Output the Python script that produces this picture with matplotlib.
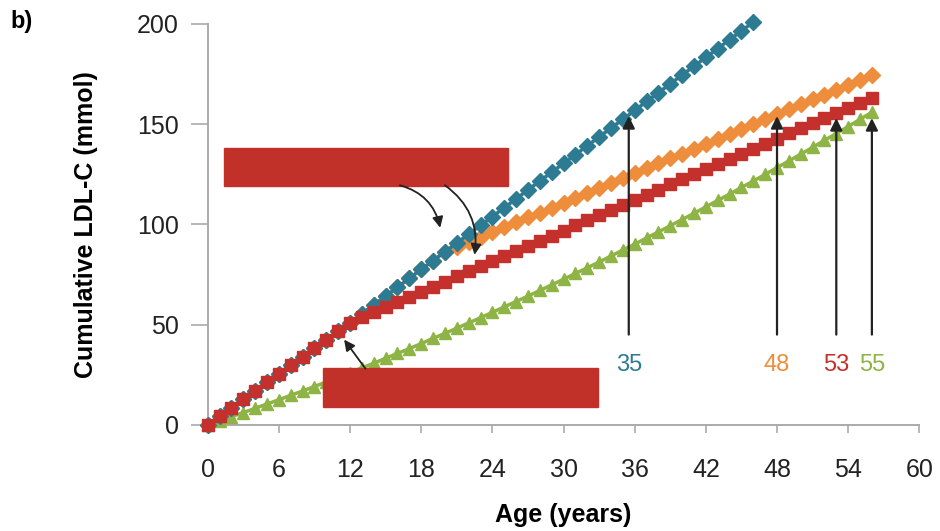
import matplotlib
matplotlib.use("Agg")
import matplotlib.pyplot as plt
from matplotlib.patches import Rectangle

############# DATA ###############
AGE_BLUE = list(range(0, 47))
BLUE = [0, 4.25, 8.5, 12.75, 17, 21.25, 25.5, 29.75, 34, 38.25, 42.5, 46.75, 51,
        55.4, 59.8, 64.2, 68.6, 73.1, 77.5, 81.9, 86.3, 90.7, 95.1, 99.5, 103.9,
        108.3, 112.7, 117.2, 121.6, 126.0, 130.4, 134.8, 139.2, 143.6, 148.0,
        152.4, 156.8, 161.3, 165.7, 170.1, 174.5, 178.9, 183.3, 187.7, 192.1,
        196.5, 200.9]

AGE_ORANGE = list(range(0, 57))
ORANGE = [0, 4.25, 8.5, 12.75, 17, 21.25, 25.5, 29.75, 34, 38.25, 42.5, 46.75, 51,
          55.4, 59.8, 64.2, 68.6, 73.1, 77.5, 81.9, 86.3,
          88.8, 91.2, 93.7, 96.1, 98.6, 101.0, 103.5, 105.9, 108.4, 110.8, 113.3,
          115.7, 118.2, 120.6, 123.1, 125.5, 128.0, 130.4, 132.9, 135.3, 137.8,
          140.2, 142.7, 145.1, 147.6, 150.0, 152.5, 154.9, 157.4, 159.8, 162.3,
          164.7, 167.2, 169.6, 172.1, 174.5]

AGE_RED = list(range(0, 57))
RED = [0, 4.25, 8.5, 12.75, 17, 21.25, 25.5, 29.75, 34, 38.25, 42.5, 46.75, 51,
       53.6, 56.1, 58.7, 61.2, 63.8, 66.3, 68.9, 71.4, 74.0, 76.5, 79.1, 81.6,
       84.2, 86.7, 89.3, 91.8, 94.4, 96.9, 99.5, 102.0, 104.6, 107.1, 109.7,
       112.2, 114.8, 117.3, 119.9, 122.4, 125.0, 127.5, 130.1, 132.6, 135.2,
       137.7, 140.3, 142.8, 145.4, 147.9, 150.5, 153.0, 155.6, 158.1, 160.7,
       163.2]

AGE_GREEN = list(range(0, 57))
GREEN = [0, 2.0, 4.1, 6.1, 8.2, 10.4, 12.5, 14.7, 16.9, 19.1, 21.4, 23.7, 26.0,
         28.4, 30.7, 33.2, 35.6, 38.0, 40.5, 43.1, 45.6, 48.2, 50.8, 53.4, 56.1,
         58.8, 61.5, 64.2, 67.0, 69.8, 72.6, 75.5, 78.3, 81.2, 84.2, 87.2, 90.1,
         93.2, 96.2, 99.3, 102.4, 105.5, 108.7, 111.9, 115.1, 118.4, 121.6,
         124.9, 128.3, 131.6, 135.0, 138.4, 141.9, 145.3, 148.8, 152.4, 155.9]

X_TICKS = [0, 6, 12, 18, 24, 30, 36, 42, 48, 54, 60]
Y_TICKS = [0, 50, 100, 150, 200]

ARROW_X = [35.5, 48, 53, 56]
ARROW_TIP = [154, 154, 153, 153]
ARROW_LABELS = ["35", "48", "53", "55"]
##################################

############ PALETTE ###############
C_BLUE = "#2C7B93"
C_ORANGE = "#EE8E3C"
C_RED = "#C4302B"
C_GREEN = "#8DB444"
ARROW_COLORS = [C_BLUE, C_ORANGE, C_RED, C_GREEN]
BOX_COLOR = "#C2302A"
####################################

plt.rcParams["font.family"] = ["Liberation Sans", "DejaVu Sans"]

fig = plt.figure(figsize=(9.4, 5.31), dpi=100)
ax = fig.add_axes([0.221, 0.2, 0.757, 0.755])

ax.plot(AGE_GREEN, GREEN, color=C_GREEN, marker="^", markersize=9,
        linewidth=2.5, clip_on=False, zorder=3)
ax.plot(AGE_ORANGE, ORANGE, color=C_ORANGE, marker="D", markersize=8,
        linewidth=2.5, clip_on=False, zorder=4)
ax.plot(AGE_BLUE, BLUE, color=C_BLUE, marker="D", markersize=8,
        linewidth=2.5, clip_on=False, zorder=5)
ax.plot(AGE_RED, RED, color=C_RED, marker="s", markersize=8,
        linewidth=2.5, clip_on=False, zorder=6)

# vertical arrows with age labels
for x, tip, lab, col in zip(ARROW_X, ARROW_TIP, ARROW_LABELS, ARROW_COLORS):
    ax.annotate("", xy=(x, tip), xytext=(x, 45),
                arrowprops=dict(arrowstyle="-|>", color="#222222", lw=1.6,
                                mutation_scale=18, shrinkA=0, shrinkB=0),
                zorder=8)
    ax.text(x, 30, lab, color=col, fontsize=17, ha="center", va="center",
            zorder=8)

# redaction boxes
ax.add_patch(Rectangle((1.35, 119.2), 23.95, 19.0, color=BOX_COLOR, zorder=9, clip_on=False))
ax.add_patch(Rectangle((9.7, 9.0), 23.2, 19.4, color=BOX_COLOR, zorder=9, clip_on=False))

# curved arrows from the upper box
ax.annotate("", xy=(19.6, 98.3), xytext=(16.2, 119.5),
            arrowprops=dict(arrowstyle="-|>", color="#222222", lw=1.3,
                            mutation_scale=16, shrinkA=0, shrinkB=0,
                            connectionstyle="arc3,rad=-0.3"), zorder=10)
ax.annotate("", xy=(22.5, 84.8), xytext=(20.0, 119.5),
            arrowprops=dict(arrowstyle="-|>", color="#222222", lw=1.3,
                            mutation_scale=16, shrinkA=0, shrinkB=0,
                            connectionstyle="arc3,rad=-0.3"), zorder=10)
# arrow from the lower box
ax.annotate("", xy=(11.5, 42.5), xytext=(13.3, 28.0),
            arrowprops=dict(arrowstyle="-|>", color="#222222", lw=1.3,
                            mutation_scale=16, shrinkA=0, shrinkB=0), zorder=10)

ax.set_xlim(0, 60)
ax.set_ylim(0, 200)
ax.set_xticks(X_TICKS)
ax.set_yticks(Y_TICKS)

for s in ["top", "right"]:
    ax.spines[s].set_visible(False)
for s in ["left", "bottom"]:
    ax.spines[s].set_color("#AAAAAA")
    ax.spines[s].set_linewidth(1.4)

ax.tick_params(axis="x", length=6, width=1.2, color="#AAAAAA", pad=18,
               labelsize=18, labelcolor="#222222")
ax.tick_params(axis="y", length=12, width=1.2, color="#AAAAAA", pad=9,
               labelsize=18, labelcolor="#222222")

ax.set_xlabel("Age (years)", fontsize=18, fontweight="bold", labelpad=15)
ax.set_ylabel("Cumulative LDL-C (mmol)", fontsize=18, fontweight="bold", labelpad=28)

fig.text(0.011, 0.96, "b)", fontsize=17, fontweight="bold", va="center", ha="left")

fig.savefig("out.png", dpi=100)
